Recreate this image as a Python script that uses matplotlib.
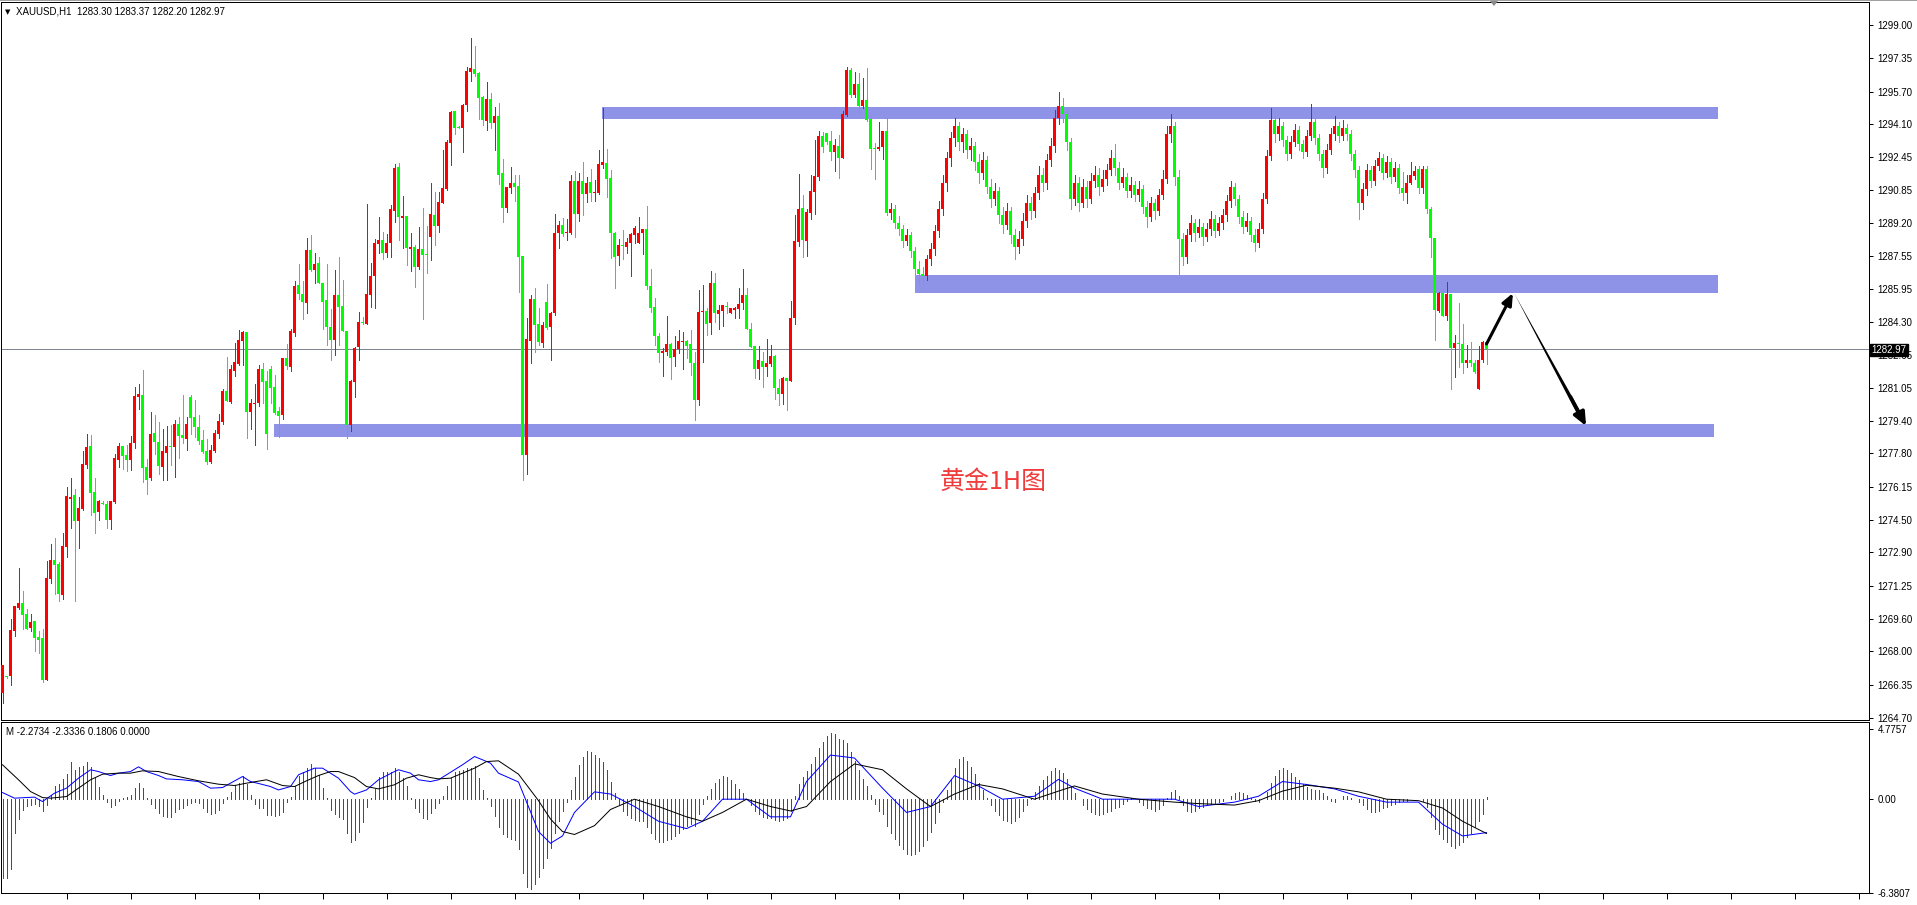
import matplotlib
matplotlib.use('Agg')
import matplotlib.pyplot as plt
import numpy as np
from matplotlib.patches import Rectangle, Polygon
from matplotlib.lines import Line2D

# ---- price data (XAUUSD H1), bars 0..221
opens_a = [1265.95, 1266.76, 1266.79, 1269.00, 1270.12, 1270.37, 1269.87, 1269.16, 1269.49, 1268.72,
           1268.67, 1266.57, 1271.59, 1272.51, 1272.32, 1270.78, 1273.17, 1275.53, 1275.73, 1274.44,
           1275.02, 1277.22, 1278.16, 1275.91, 1274.91, 1275.35, 1275.29, 1274.49, 1275.37, 1277.46,
           1278.16, 1277.71, 1277.46, 1278.31, 1280.60, 1280.68, 1277.13, 1276.57, 1278.82, 1278.37,
           1277.13, 1277.83, 1278.16, 1278.09, 1279.25, 1278.70, 1278.52, 1280.58, 1279.58, 1279.10,
           1278.45, 1277.91, 1277.38, 1277.93, 1278.75, 1279.34, 1280.88, 1280.35, 1281.89, 1282.22,
           1283.37, 1283.80, 1279.86, 1280.25, 1280.27, 1281.97, 1281.37, 1281.97, 1281.08, 1279.89,
           1279.71, 1282.51, 1282.08, 1283.77, 1286.13, 1285.69, 1285.26, 1287.86, 1286.87, 1287.20,
           1286.21, 1285.39, 1284.07, 1283.41, 1285.64, 1285.09, 1283.85, 1279.20, 1281.34, 1283.08,
           1284.32, 1284.20, 1285.64, 1286.58, 1288.16, 1288.36, 1287.73, 1288.23, 1289.81, 1291.99,
           1289.46, 1289.55, 1287.93, 1288.00, 1287.04, 1287.90, 1287.65, 1288.52, 1289.60, 1289.07,
           1290.21, 1290.88, 1293.18, 1294.74, 1293.97, 1293.92, 1295.04, 1296.69, 1296.82, 1296.61,
           1295.45, 1294.27, 1295.34, 1294.17, 1294.50, 1291.66, 1289.96, 1290.92, 1291.16, 1291.05,
           1287.56, 1277.72, 1283.38, 1285.44, 1284.20, 1283.24, 1285.31, 1284.07, 1284.73, 1288.69,
           1289.10, 1288.69, 1288.69, 1291.28, 1289.65, 1291.28, 1290.64, 1291.25, 1290.69, 1290.70,
           1292.07, 1292.19, 1291.44, 1288.72, 1287.58, 1288.08, 1288.03, 1288.23, 1288.61, 1288.23,
           1288.69, 1288.90, 1286.10, 1285.06, 1283.61, 1282.78, 1282.83, 1283.21, 1282.58, 1282.95,
           1283.33, 1283.36, 1283.21, 1282.29, 1280.44, 1284.78, 1284.86, 1284.23, 1286.25, 1284.70,
           1284.86, 1285.09, 1284.76, 1284.89, 1284.94, 1285.22, 1285.64, 1283.94, 1283.11, 1281.96,
           1282.37, 1282.09, 1282.20, 1282.62, 1281.05, 1280.72, 1281.51, 1281.39, 1284.48, 1288.28,
           1289.93, 1288.33, 1289.71, 1290.75, 1291.50, 1293.51, 1293.64, 1293.26, 1292.73, 1293.01,
           1292.43, 1294.55, 1296.78, 1295.54, 1296.08, 1294.99, 1295.29, 1294.33, 1292.88, 1292.85,
           1292.95, 1293.76]
highs_a = [1267.32, 1266.80, 1269.58, 1270.24, 1272.13, 1270.98, 1270.07, 1269.84, 1269.49, 1269.00,
           1269.10, 1272.46, 1273.31, 1273.59, 1272.43, 1273.87, 1276.14, 1276.59, 1276.01, 1275.65,
           1277.93, 1278.78, 1278.69, 1276.59, 1275.48, 1275.45, 1275.45, 1275.43, 1277.78, 1278.29,
           1278.16, 1278.21, 1278.65, 1281.08, 1281.23, 1281.92, 1277.50, 1279.86, 1279.69, 1279.34,
           1279.00, 1279.15, 1279.20, 1279.44, 1279.58, 1280.68, 1279.58, 1280.68, 1280.43, 1279.69,
           1278.95, 1278.51, 1278.21, 1278.95, 1279.74, 1280.98, 1282.58, 1282.17, 1283.24, 1283.90,
           1283.85, 1283.80, 1280.48, 1281.23, 1282.17, 1282.25, 1281.87, 1282.12, 1281.67, 1280.07,
           1282.51, 1283.19, 1283.97, 1286.33, 1287.17, 1286.33, 1288.44, 1288.61, 1287.70, 1287.50,
           1286.21, 1287.17, 1284.93, 1286.87, 1287.50, 1286.38, 1283.85, 1281.43, 1283.08, 1284.81,
           1284.56, 1290.14, 1287.20, 1288.39, 1289.51, 1288.77, 1288.64, 1290.09, 1292.12, 1292.19,
           1290.54, 1289.55, 1288.69, 1288.11, 1288.99, 1289.93, 1289.05, 1291.16, 1290.72, 1290.72,
           1292.81, 1293.31, 1294.76, 1294.74, 1294.00, 1295.09, 1296.94, 1298.34, 1297.98, 1296.69,
           1295.49, 1296.20, 1295.65, 1294.93, 1295.13, 1292.36, 1291.00, 1291.99, 1291.58, 1291.58,
           1287.56, 1284.51, 1285.64, 1286.00, 1285.01, 1284.32, 1286.18, 1284.81, 1289.65, 1289.32,
           1289.47, 1289.40, 1291.58, 1291.78, 1291.69, 1292.22, 1291.46, 1291.86, 1291.33, 1292.81,
           1294.88, 1292.86, 1291.82, 1288.77, 1288.41, 1288.85, 1288.47, 1288.72, 1289.07, 1289.51,
           1288.90, 1290.04, 1286.92, 1285.50, 1283.77, 1283.03, 1284.61, 1283.24, 1283.61, 1283.90,
           1283.79, 1283.41, 1283.90, 1282.83, 1285.88, 1286.13, 1285.01, 1286.82, 1286.71, 1285.14,
           1285.14, 1285.31, 1285.01, 1285.06, 1285.97, 1286.92, 1286.00, 1284.23, 1283.11, 1283.11,
           1282.83, 1283.46, 1283.16, 1282.67, 1281.46, 1281.56, 1281.51, 1285.34, 1289.60, 1291.63,
           1290.59, 1289.88, 1291.58, 1293.31, 1293.75, 1293.72, 1293.67, 1293.75, 1293.36, 1293.56,
           1294.75, 1296.94, 1296.86, 1296.66, 1296.61, 1296.39, 1296.89, 1294.55, 1293.14, 1294.22,
           1293.76, 1294.41]
lows_a = [1265.45, 1266.70, 1266.33, 1268.75, 1270.07, 1269.10, 1269.10, 1269.00, 1268.01, 1267.93,
          1266.49, 1266.57, 1271.39, 1270.83, 1270.50, 1270.57, 1272.65, 1274.08, 1270.50, 1273.09,
          1274.99, 1277.08, 1274.74, 1273.87, 1274.49, 1275.27, 1274.11, 1274.05, 1275.32, 1277.12,
          1277.02, 1276.92, 1276.97, 1278.07, 1279.97, 1276.39, 1275.78, 1276.47, 1277.76, 1276.80,
          1276.47, 1276.47, 1277.22, 1276.64, 1277.58, 1278.29, 1277.96, 1278.78, 1278.62, 1278.26,
          1277.80, 1277.27, 1277.30, 1277.88, 1278.57, 1279.25, 1280.38, 1280.30, 1281.64, 1282.17,
          1282.17, 1278.57, 1279.00, 1278.21, 1280.15, 1280.27, 1277.99, 1280.30, 1279.77, 1278.59,
          1279.48, 1281.99, 1281.87, 1283.60, 1285.42, 1284.43, 1284.76, 1286.84, 1286.21, 1286.21,
          1283.94, 1283.16, 1282.42, 1282.67, 1283.16, 1283.87, 1278.56, 1278.92, 1280.60, 1282.42,
          1284.22, 1284.20, 1285.03, 1284.98, 1287.73, 1287.40, 1287.53, 1287.53, 1289.23, 1288.36,
          1287.95, 1287.12, 1286.84, 1286.05, 1286.91, 1284.45, 1286.71, 1287.37, 1288.11, 1288.77,
          1290.21, 1290.84, 1292.07, 1293.61, 1293.89, 1292.73, 1294.76, 1296.25, 1296.50, 1294.35,
          1294.05, 1293.80, 1293.92, 1292.81, 1291.13, 1289.27, 1289.73, 1290.67, 1290.29, 1285.80,
          1276.48, 1276.78, 1282.29, 1282.83, 1283.16, 1283.08, 1283.95, 1282.42, 1284.65, 1287.98,
          1288.57, 1288.36, 1288.66, 1288.53, 1289.32, 1289.60, 1290.26, 1290.29, 1290.31, 1290.64,
          1291.91, 1290.50, 1287.48, 1286.00, 1287.12, 1287.42, 1287.70, 1286.59, 1288.19, 1288.19,
          1287.65, 1285.93, 1284.81, 1283.16, 1282.34, 1281.64, 1282.65, 1281.48, 1282.14, 1282.78,
          1281.96, 1282.53, 1281.68, 1279.45, 1280.19, 1282.34, 1283.66, 1283.71, 1284.32, 1283.95,
          1284.10, 1284.76, 1284.73, 1284.48, 1284.48, 1284.94, 1283.94, 1283.08, 1281.51, 1281.46,
          1281.07, 1281.63, 1282.12, 1280.47, 1280.19, 1280.24, 1279.94, 1281.39, 1284.18, 1288.08,
          1287.53, 1287.58, 1289.38, 1289.63, 1291.33, 1292.73, 1293.11, 1292.32, 1291.79, 1291.44,
          1292.43, 1294.51, 1295.42, 1295.42, 1294.66, 1294.88, 1294.25, 1291.86, 1291.38, 1292.81,
          1292.35, 1289.60]
closes_a = [1267.32, 1266.72, 1269.05, 1270.24, 1270.37, 1269.79, 1269.10, 1269.43, 1268.67, 1268.55,
            1266.57, 1271.61, 1272.51, 1272.27, 1270.83, 1273.21, 1275.68, 1275.65, 1274.44, 1275.07,
            1277.27, 1278.09, 1275.86, 1274.87, 1275.43, 1275.30, 1274.49, 1275.43, 1277.56, 1278.16,
            1277.66, 1277.46, 1278.31, 1280.63, 1280.73, 1277.08, 1276.47, 1278.78, 1278.34, 1277.17,
            1277.93, 1278.16, 1278.09, 1279.25, 1278.67, 1278.55, 1279.25, 1279.56, 1279.08, 1278.40,
            1277.88, 1277.38, 1277.96, 1278.82, 1279.39, 1280.88, 1280.38, 1281.97, 1282.32, 1283.40,
            1283.80, 1279.86, 1280.27, 1280.30, 1281.97, 1281.34, 1278.78, 1281.04, 1279.82, 1279.66,
            1282.51, 1282.13, 1283.85, 1286.08, 1285.69, 1285.31, 1287.86, 1286.87, 1287.17, 1286.21,
            1285.31, 1284.04, 1283.41, 1285.64, 1285.06, 1283.87, 1279.20, 1281.39, 1283.00, 1284.30,
            1284.27, 1285.69, 1286.58, 1288.23, 1288.36, 1287.73, 1288.23, 1289.89, 1291.92, 1289.48,
            1289.55, 1287.95, 1288.00, 1287.04, 1287.90, 1287.62, 1287.62, 1289.65, 1289.07, 1290.24,
            1290.92, 1293.23, 1294.71, 1293.92, 1293.92, 1295.04, 1296.73, 1296.89, 1296.58, 1295.41,
            1294.30, 1295.34, 1294.14, 1294.50, 1291.58, 1289.96, 1291.00, 1291.16, 1291.00, 1287.53,
            1277.72, 1283.46, 1285.44, 1284.15, 1283.29, 1284.15, 1284.02, 1284.76, 1288.72, 1289.10,
            1288.66, 1288.74, 1291.28, 1289.65, 1291.28, 1290.64, 1291.16, 1290.70, 1290.72, 1292.12,
            1292.24, 1291.36, 1288.69, 1287.53, 1288.11, 1288.05, 1288.24, 1288.66, 1288.97, 1288.72,
            1288.90, 1286.10, 1285.01, 1283.62, 1282.78, 1282.88, 1283.21, 1282.53, 1282.95, 1283.36,
            1283.36, 1283.13, 1282.25, 1280.44, 1284.81, 1284.86, 1284.20, 1286.25, 1284.73, 1284.89,
            1285.14, 1285.06, 1285.01, 1285.01, 1285.19, 1285.64, 1283.94, 1283.08, 1281.96, 1282.42,
            1282.09, 1282.25, 1282.62, 1281.02, 1280.72, 1281.51, 1281.39, 1284.48, 1288.31, 1289.88,
            1288.36, 1289.73, 1290.78, 1291.53, 1293.51, 1292.98, 1293.23, 1292.73, 1293.06, 1292.43,
            1294.60, 1296.78, 1295.54, 1296.08, 1294.99, 1295.29, 1294.30, 1292.85, 1292.85, 1292.98,
            1293.76, 1289.68]

# bars 222..349
opens_b = [1289.68, 1289.90, 1289.20, 1288.90, 1288.30, 1288.60, 1287.80, 1286.90, 1286.70, 1286.60,
           1287.40, 1287.90, 1288.80, 1289.90, 1291.20, 1292.40, 1293.40, 1294.00, 1293.20, 1293.60,
           1292.80, 1293.00, 1292.20, 1291.70, 1292.30, 1291.00, 1290.40, 1290.80, 1289.60, 1289.10,
           1289.80, 1288.60, 1288.00, 1288.40, 1289.30, 1290.20, 1289.80, 1290.70, 1291.60, 1291.20,
           1292.30, 1293.00, 1294.40, 1295.00, 1294.60, 1293.20, 1290.40, 1291.20, 1290.20, 1291.00,
           1290.40, 1291.30, 1291.60, 1291.00, 1291.40, 1291.80, 1292.40, 1291.90, 1291.20, 1291.50,
           1290.80, 1291.10, 1290.60, 1290.90, 1290.00, 1289.50, 1290.20, 1289.80, 1290.60, 1291.40,
           1293.60, 1294.00, 1291.50, 1288.40, 1287.50, 1288.60, 1289.20, 1288.70, 1289.00, 1288.50,
           1288.90, 1289.40, 1288.80, 1289.20, 1289.60, 1290.30, 1291.00, 1290.40, 1289.50, 1289.00,
           1289.30, 1288.60, 1288.20, 1288.90, 1290.40, 1292.50, 1294.30, 1293.60, 1294.00, 1293.30,
           1292.60, 1293.20, 1293.80, 1293.10, 1292.70, 1293.50, 1294.20, 1293.40, 1292.60, 1291.90,
           1292.80, 1293.60, 1294.00, 1293.50, 1293.90, 1293.60, 1292.60, 1291.80, 1290.20, 1290.90,
           1291.80, 1291.30, 1292.00, 1292.40, 1291.70, 1292.20, 1291.50, 1291.90]
highs_b = [1290.20, 1290.10, 1289.55, 1289.10, 1288.90, 1288.75, 1288.00, 1287.30, 1287.00, 1287.60,
           1288.20, 1289.10, 1290.30, 1291.60, 1292.70, 1293.70, 1294.40, 1294.20, 1293.90, 1293.80,
           1293.40, 1293.20, 1292.60, 1292.70, 1292.50, 1291.40, 1291.20, 1291.00, 1290.00, 1290.20,
           1290.00, 1288.90, 1288.80, 1289.70, 1290.60, 1290.50, 1291.00, 1292.00, 1291.90, 1292.60,
           1293.40, 1294.80, 1295.70, 1295.40, 1294.90, 1293.40, 1291.60, 1291.50, 1291.40, 1291.30,
           1291.70, 1292.00, 1291.90, 1291.80, 1292.10, 1292.80, 1293.10, 1292.20, 1291.90, 1291.70,
           1291.50, 1291.30, 1291.30, 1291.10, 1290.30, 1290.50, 1290.40, 1290.90, 1291.80, 1294.00,
           1294.60, 1294.20, 1291.80, 1288.70, 1288.90, 1289.60, 1289.40, 1289.40, 1289.20, 1289.20,
           1289.80, 1289.60, 1289.50, 1289.90, 1290.60, 1291.30, 1291.20, 1290.60, 1289.80, 1289.70,
           1289.50, 1288.90, 1289.20, 1290.70, 1292.80, 1294.90, 1294.60, 1294.40, 1294.20, 1293.50,
           1293.50, 1294.10, 1294.00, 1293.30, 1293.80, 1295.10, 1294.40, 1293.60, 1292.80, 1293.10,
           1293.90, 1294.50, 1294.20, 1294.30, 1294.10, 1293.80, 1292.80, 1292.00, 1291.20, 1292.10,
           1292.00, 1292.30, 1292.70, 1292.60, 1292.50, 1292.40, 1292.20, 1292.10]
lows_b = [1289.40, 1288.95, 1288.60, 1288.00, 1288.10, 1287.50, 1286.70, 1286.20, 1286.25, 1286.40,
          1287.10, 1287.60, 1288.50, 1289.60, 1290.80, 1292.00, 1293.00, 1292.80, 1292.70, 1292.40,
          1292.30, 1291.80, 1291.20, 1291.40, 1290.70, 1290.00, 1290.10, 1289.20, 1288.70, 1288.90,
          1288.20, 1287.40, 1287.70, 1288.10, 1289.00, 1289.40, 1289.50, 1290.40, 1290.80, 1290.90,
          1292.00, 1292.70, 1294.10, 1294.20, 1292.80, 1289.90, 1290.10, 1289.80, 1290.00, 1290.00,
          1290.20, 1291.00, 1290.60, 1290.80, 1291.10, 1291.60, 1291.60, 1290.90, 1291.00, 1290.50,
          1290.50, 1290.30, 1290.30, 1289.70, 1289.00, 1289.30, 1289.40, 1289.60, 1290.40, 1291.20,
          1293.20, 1291.10, 1286.70, 1287.10, 1287.20, 1288.30, 1288.30, 1288.50, 1288.10, 1288.30,
          1288.60, 1288.50, 1288.60, 1288.90, 1289.30, 1290.00, 1290.10, 1289.20, 1288.70, 1288.80,
          1288.30, 1287.80, 1288.00, 1288.70, 1290.20, 1292.30, 1293.20, 1293.30, 1293.00, 1292.30,
          1292.40, 1293.00, 1292.80, 1292.40, 1292.50, 1293.30, 1293.10, 1292.30, 1291.50, 1291.70,
          1292.60, 1293.30, 1293.20, 1293.30, 1293.30, 1292.30, 1291.50, 1289.40, 1289.90, 1290.60,
          1291.00, 1291.10, 1291.80, 1291.40, 1291.50, 1291.20, 1291.30, 1290.70]
closes_b = [1289.90, 1289.20, 1288.90, 1288.30, 1288.60, 1287.80, 1286.90, 1286.70, 1286.60, 1287.40,
            1287.90, 1288.80, 1289.90, 1291.20, 1292.40, 1293.40, 1294.00, 1293.20, 1293.60, 1292.80,
            1293.00, 1292.20, 1291.70, 1292.30, 1291.00, 1290.40, 1290.80, 1289.60, 1289.10, 1289.80,
            1288.60, 1288.00, 1288.40, 1289.30, 1290.20, 1289.80, 1290.70, 1291.60, 1291.20, 1292.30,
            1293.00, 1294.40, 1295.00, 1294.60, 1293.20, 1290.40, 1291.20, 1290.20, 1291.00, 1290.40,
            1291.30, 1291.60, 1291.00, 1291.40, 1291.80, 1292.40, 1291.90, 1291.20, 1291.50, 1290.80,
            1291.10, 1290.60, 1290.90, 1290.00, 1289.50, 1290.20, 1289.80, 1290.60, 1291.40, 1293.60,
            1294.00, 1291.50, 1288.40, 1287.50, 1288.60, 1289.20, 1288.70, 1289.00, 1288.50, 1288.90,
            1289.40, 1288.80, 1289.20, 1289.60, 1290.30, 1291.00, 1290.40, 1289.50, 1289.00, 1289.30,
            1288.60, 1288.20, 1288.90, 1290.40, 1292.50, 1294.30, 1293.60, 1294.00, 1293.30, 1292.60,
            1293.20, 1293.80, 1293.10, 1292.70, 1293.50, 1294.20, 1293.40, 1292.60, 1291.90, 1292.80,
            1293.60, 1294.00, 1293.50, 1293.90, 1293.60, 1292.60, 1291.80, 1290.20, 1290.90, 1291.80,
            1291.30, 1292.00, 1292.40, 1291.70, 1292.20, 1291.50, 1291.90, 1290.95]

# bars 350..371
opens_c = [1290.95, 1290.67, 1291.16, 1291.53, 1291.86, 1290.95, 1291.87, 1289.89, 1288.47, 1284.84,
           1285.75, 1284.61, 1285.68, 1283.03, 1283.28, 1283.21, 1282.25, 1282.42, 1282.29, 1280.98,
           1282.42, 1283.30]
highs_c = [1291.74, 1291.58, 1292.20, 1292.02, 1292.02, 1292.02, 1292.02, 1289.97, 1288.47, 1285.80,
           1286.00, 1286.26, 1285.68, 1283.65, 1285.22, 1284.20, 1283.16, 1283.29, 1282.42, 1283.11,
           1283.36, 1283.37]
lows_c = [1290.34, 1290.17, 1291.11, 1291.38, 1290.70, 1290.70, 1289.71, 1287.53, 1283.41, 1284.81,
          1284.61, 1284.40, 1280.98, 1281.59, 1282.09, 1281.76, 1282.09, 1282.12, 1281.76, 1280.98,
          1282.34, 1282.20]
closes_c = [1290.67, 1291.16, 1291.58, 1291.77, 1290.95, 1291.87, 1289.89, 1288.44, 1284.89, 1285.75,
            1284.61, 1285.68, 1283.03, 1283.28, 1283.19, 1282.25, 1282.42, 1282.25, 1281.84, 1282.42,
            1283.29, 1282.97]

# MACD histogram, one value per bar
hist = [-5.33, -5.33, -4.74, -2.31, -1.34, -0.73, -0.43, -0.39, -0.34, -0.43,
        -0.79, -0.39, 0.29, 0.93, 1.02, 1.36, 1.70, 2.52, 2.00, 2.22,
        2.27, 2.52, 2.22, 1.43, 0.86, 0.29, -0.16, -0.50, -0.39, -0.11,
        0.11, 0.16, 0.27, 0.79, 1.09, 0.75, 0.07, -0.34, -0.61, -0.95,
        -1.13, -1.22, -1.18, -0.88, -0.68, -0.57, -0.39, -0.23, -0.16, -0.27,
        -0.61, -0.84, -1.00, -0.95, -0.73, -0.23, 0.18, 0.52, 0.98, 1.09,
        1.59, 1.02, 0.29, -0.34, -0.57, -0.61, -1.07, -1.07, -1.11, -1.07,
        -0.84, -0.20, 0.14, 0.93, 1.61, 1.88, 2.15, 2.38, 2.11, 1.66,
        0.79, 0.07, -0.73, -1.02, -1.18, -1.34, -2.31, -2.93, -2.77, -2.20,
        -1.52, -0.50, 0.11, 0.70, 1.54, 1.84, 1.84, 1.84, 2.15, 1.84,
        1.47, 0.93, 0.07, -0.61, -0.84, -1.25, -1.34, -0.95, -0.61, -0.27,
        0.25, 0.93, 1.47, 1.84, 1.93, 2.00, 2.11, 2.15, 2.29, 1.43,
        0.63, 0.05, -0.45, -1.11, -1.86, -2.4, -2.6, -2.7, -2.8, -3.4,
        -5.0, -6.0, -6.1, -5.8, -5.3, -4.7, -4.0, -3.3, -2.3, -1.5,
        -0.8, -0.2, 0.6, 1.5, 2.3, 2.9, 3.3, 3.2, 3.0, 2.8,
        2.5, 2.0, 1.2, 0.4, -0.3, -0.8, -1.1, -1.3, -1.4, -1.5,
        -1.5, -1.9, -2.3, -2.7, -2.9, -2.9, -2.8, -2.7, -2.5, -2.3,
        -2.0, -1.8, -1.7, -1.8, -1.0, -0.3, 0.2, 0.7, 1.1, 1.4,
        1.6, 1.5, 1.3, 1.0, 0.7, 0.4, 0.0, -0.4, -0.8, -1.0,
        -1.2, -1.3, -1.3, -1.4, -1.5, -1.4, -1.3, -0.8, 0.2, 1.0,
        1.5, 1.9, 2.4, 2.9, 3.5, 3.9, 4.3, 4.5, 4.4, 4.1,
        4.0, 3.8, 3.2, 2.6, 2.0, 1.4, 0.9, 0.3, -0.3, -0.8,
        -1.0, -1.8, -2.3, -2.7, -3.1, -3.4, -3.7, -3.8, -3.7, -3.5,
        -3.2, -2.8, -2.2, -1.6, -0.9, -0.2, 0.6, 1.4, 2.1, 2.7,
        2.9, 2.6, 2.2, 1.7, 1.1, 0.6, 0.1, -0.4, -0.8, -1.1,
        -1.4, -1.5, -1.6, -1.5, -1.2, -0.8, -0.4, 0.1, 0.5, 0.9,
        1.3, 1.6, 1.9, 2.1, 2.0, 1.8, 1.4, 0.9, 0.4, 0.0,
        -0.4, -0.7, -0.9, -1.0, -1.1, -1.0, -0.9, -0.8, -0.6, -0.5,
        -0.3, -0.1, 0.1, 0.0, -0.2, -0.4, -0.6, -0.7, -0.8, -0.7,
        -0.4, 0.1, 0.5, 0.6, 0.2, -0.4, -0.8, -0.9, -0.8, -0.6,
        -0.5, -0.4, -0.3, -0.3, -0.2, -0.1, 0.0, 0.2, 0.4, 0.5,
        0.4, 0.3, 0.1, -0.1, -0.2, 0.0, 0.5, 1.1, 1.6, 2.0,
        2.1, 2.0, 1.8, 1.5, 1.3, 1.0, 0.8, 0.7, 0.6, 0.6,
        0.4, 0.2, -0.1, -0.2, 0.0, 0.2, 0.2, 0.1, 0.0, -0.2,
        -0.4, -0.7, -0.9, -0.9, -0.8, -0.6, -0.5, -0.4, -0.3, -0.2,
        -0.1, -0.1, 0.0, 0.0, 0.0, -0.1, -0.5, -1.2, -2.0, -2.4,
        -2.7, -2.9, -3.2, -3.3, -3.1, -2.9, -2.6, -2.3, -1.9, -1.5,
        -1.0, 0.18]

# MACD main line (blue) and signal line (black), read at sample bars
main_bars = [0, 3, 8, 10, 13, 16, 19, 22, 24, 27, 29, 32, 34, 36, 39, 41, 45, 49, 52, 55,
             57, 60, 62, 64, 67, 69, 72, 74, 78, 80, 82, 84, 87, 88, 91, 94, 98, 99, 102, 104,
             107, 109, 113, 115, 118, 120, 122, 124, 129, 134, 137, 140, 143, 148, 152, 158, 164, 171, 175, 180,
             186, 192, 197, 201, 207, 213, 220, 226, 232, 238, 244, 250, 258, 264, 268, 275, 284, 293, 299, 308,
             314, 320, 326, 333, 339, 346, 354, 360, 365, 371]
main_vals = [0.45, 0.07, 0.14, -0.16, 0.41, 0.75, 1.43, 2.00, 1.88, 1.61, 1.77, 1.88, 2.20, 1.88, 1.61, 1.38, 1.32, 1.20, 0.75, 0.79,
             1.09, 1.54, 1.20, 1.07, 0.86, 0.63, 0.86, 1.66, 2.11, 2.11, 1.77, 1.43, 0.52, 0.34, 0.63, 1.32, 1.88, 2.00, 1.77, 1.32,
             1.20, 1.32, 2.00, 2.34, 2.90, 2.68, 2.45, 1.77, 1.17, -2.2, -3.0, -2.5, -0.9, 0.5, 0.35, -0.5, -1.5, -2.0, -1.5, 0.0,
             0.0, -1.2, -1.2, 1.2, 3.0, 2.8, 0.75, -0.9, -0.5, 1.6, 0.9, 0.0, 0.2, 1.35, 0.75, 0.0, 0.0, 0.0, -0.5, -0.2,
             0.2, 1.2, 1.0, 0.7, 0.2, -0.2, -0.2, -1.7, -2.5, -2.2734]
signal_bars = [0, 4, 7, 10, 12, 16, 19, 22, 25, 29, 32, 35, 39, 44, 49, 54, 58, 61, 66, 70,
               73, 76, 79, 82, 84, 88, 91, 94, 98, 101, 104, 107, 109, 112, 115, 118, 121, 124, 129, 134,
               137, 140, 143, 148, 152, 158, 164, 171, 175, 180, 186, 192, 197, 201, 207, 213, 220, 226, 232, 238,
               244, 250, 258, 264, 268, 275, 284, 293, 299, 308, 314, 320, 326, 333, 339, 346, 354, 360, 365, 371]
signal_vals = [2.34, 1.32, 0.52, 0.11, 0.07, 0.18, 0.75, 1.32, 1.70, 1.77, 1.77, 1.93, 1.88, 1.54, 1.25, 1.02, 0.93, 1.09, 1.32, 0.93,
               0.86, 1.25, 1.61, 1.88, 1.88, 1.47, 0.86, 0.70, 0.98, 1.43, 1.66, 1.47, 1.38, 1.43, 1.77, 2.11, 2.56, 2.61, 1.7, -0.1,
               -1.35, -2.2, -2.4, -1.8, -0.7, 0.0, -0.5, -1.2, -1.5, -0.9, 0.0, -0.5, -0.8, -0.5, 1.2, 2.4, 2.0, 0.7, -0.5, 0.35,
               1.0, 0.7, 0.0, 0.55, 0.9, 0.35, 0.0, -0.2, -0.3, -0.4, -0.1, 0.55, 0.95, 0.75, 0.5, 0.0, -0.1, -0.6, -1.5, -2.3336]

y_ticks = [1299.00, 1297.35, 1295.70, 1294.10, 1292.45, 1290.85, 1289.20, 1287.55, 1285.95, 1284.30, 1282.65,
           1281.05, 1279.40, 1277.80, 1276.15, 1274.50, 1272.90, 1271.25, 1269.60, 1268.00, 1266.35, 1264.70]
last_price = 1282.97

# support / resistance zones: (first bar, last bar, low, high)
zones = [(149.9, 428.9, 1294.33, 1294.93),
         (228.0, 428.8, 1285.75, 1286.63),
         (67.9, 427.8, 1278.62, 1279.25)]

opens = np.array(opens_a + opens_b + opens_c)
highs = np.array(highs_a + highs_b + highs_c)
lows = np.array(lows_a + lows_b + lows_c)
closes = np.array(closes_a + closes_b + closes_c)
n = len(closes)
x = np.arange(n)

W, H = 1917, 905
fig = plt.figure(figsize=(W / 100, H / 100), dpi=100)
plt.rcParams['font.family'] = ['Liberation Sans', 'DejaVu Sans']


def px_axes(left, top, right, bottom):
    return fig.add_axes([left / W, 1 - bottom / H, (right - left) / W, (bottom - top) / H])


PX = 0.72  # one pixel in points
ax = px_axes(1, 2, 1869, 720)
axm = px_axes(1, 722, 1869, 893)
x0 = -0.375
for a in (ax, axm):
    a.set_xlim(x0, x0 + 1868 / 4)
    for s in a.spines.values():
        s.set_linewidth(PX)
        s.set_color('black')

ax.set_ylim(1264.60, 1300.14)

# zones
for b0, b1, lo, hi in zones:
    ax.add_patch(Rectangle((b0, lo), b1 - b0, hi - lo, facecolor='#8f93e8', edgecolor='none', zorder=1))

# last price line
ax.axhline(last_price, color='#7c8590', lw=PX, zorder=1.5)

# candles
up = closes >= opens
cols = np.where(up, '#ff0000', '#00ff00')
ax.vlines(x, lows, highs, colors=cols, lw=PX, antialiased=False, zorder=2)
body_lo = np.minimum(opens, closes)
body_h = np.maximum(np.abs(closes - opens), 0.05)
ax.bar(x, body_h, bottom=body_lo, width=0.75, color=cols, lw=0, antialiased=False, zorder=3)

# arrows
ax.annotate('', xy=(377.6, 1285.73), xytext=(371.0, 1283.21),
            arrowprops=dict(arrowstyle='-|>,head_length=0.7,head_width=0.3', lw=2.2, color='black',
                            shrinkA=0, shrinkB=0), zorder=5)
ax.annotate('', xy=(377.9, 1285.73), xytext=(394.5, 1279.65),
            arrowprops=dict(arrowstyle='wedge,tail_width=0.3,shrink_factor=0.5', color='black', lw=0,
                            shrinkA=0, shrinkB=0), zorder=5)
ax.annotate('', xy=(395.9, 1279.15), xytext=(392.0, 1280.6),
            arrowprops=dict(arrowstyle='-|>,head_length=0.8,head_width=0.35', lw=2.5, color='black',
                            shrinkA=0, shrinkB=0), zorder=5)

ax.text(247.6, 1276.38, '黄金1H图', color='#f03c3c', fontsize=18,
        family=['Noto Sans CJK SC', 'DejaVu Sans'], ha='center', va='center')

# right price scale
ax.yaxis.tick_right()
ax.set_yticks(y_ticks)
ax.set_yticklabels([f'{v:.2f}' for v in y_ticks])
ax.tick_params(axis='y', direction='out', length=3, width=PX, pad=3, labelsize=7)
ax.set_xticks([])

fig.text(1871.5 / W, 1 - 350 / H, f'{last_price:.2f}', color='white', fontsize=7, va='center', ha='left',
         bbox=dict(boxstyle='square,pad=0.12', facecolor='black', edgecolor='black'))

# MACD panel
hist = np.array(hist)
axm.set_ylim(-6.38, 5.25)
hcols = np.where(hist >= 0, '#008000', '#ff0000')
axm.vlines(x, 0, hist, colors=hcols, lw=PX, antialiased=False, zorder=2)
axm.plot(main_bars, main_vals, color='#0000ff', lw=PX, zorder=3)
axm.plot(signal_bars, signal_vals, color='black', lw=PX, zorder=3)
axm.yaxis.tick_right()
axm.set_yticks([4.7757, 0.0, -6.3807])
axm.set_yticklabels(['4.7757', '0.00', '-6.3807'])
axm.tick_params(axis='y', direction='out', length=3, width=PX, pad=3, labelsize=7)
axm.set_xticks(np.arange(16, 467, 16))
axm.set_xticklabels([])
axm.tick_params(axis='x', direction='out', length=4, width=PX)

# header labels
fig.text(5 / W, 1 - 12 / H, '\u25bc', fontsize=5, va='center', family='DejaVu Sans')
fig.text(16 / W, 1 - 12 / H, 'XAUUSD,H1  1283.30 1283.37 1282.20 1282.97', fontsize=7, va='center')
fig.text(6 / W, 1 - 732 / H, 'M -2.2734 -2.3336 0.1806 0.0000', fontsize=7, va='center')

# chart shift marker and window edge
fig.patches.append(Polygon([[1490 / W, 1 - 1 / H], [1498 / W, 1 - 1 / H], [1494 / W, 1 - 6 / H]],
                           closed=True, transform=fig.transFigure, facecolor='#8a8a8a', edgecolor='none'))
fig.lines.append(Line2D([0, 1], [1 - 0.5 / H, 1 - 0.5 / H], transform=fig.transFigure, color='#a0a0a0', lw=PX))

fig.savefig('out.png', dpi=100)
